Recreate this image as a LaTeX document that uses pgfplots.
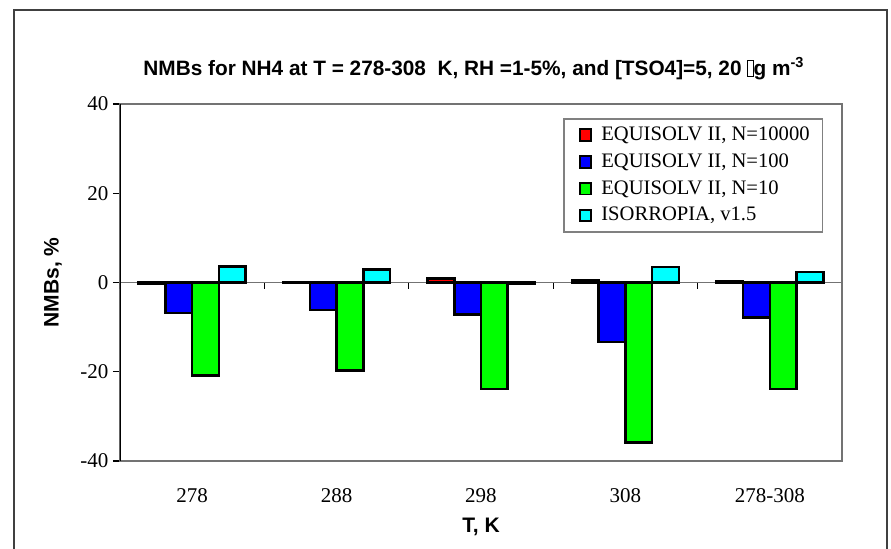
\documentclass[border=0pt]{standalone}
\usepackage{fontspec}
\setmainfont{Liberation Serif}
\setsansfont{Liberation Sans}
\usepackage{pgfplots}
\pgfplotsset{compat=1.18}
\definecolor{ered}{HTML}{FF0000}
\definecolor{eblue}{HTML}{0000FF}
\definecolor{egreen}{HTML}{00FF00}
\definecolor{ecyan}{HTML}{00FFFF}
\newcommand{\tofu}{{\setlength\fboxsep{0pt}\setlength\fboxrule{0.4pt}\fbox{\rule{0.22em}{0pt}\rule[-0.05em]{0pt}{0.75em}}}}
\begin{document}
\begin{tikzpicture}
\useasboundingbox (0,0) rectangle (445.5pt,-274pt);
\clip (0,0) rectangle (445.5pt,-274pt);
\draw[line width=1pt, black!75] (7pt,-5pt) rectangle (443.5pt,-300pt);
\begin{axis}[
  at={(60pt,-230.5pt)}, anchor=south west,
  scale only axis, width=361pt, height=178.5pt,
  xmin=0, xmax=5, ymin=-40, ymax=40,
  ybar, bar width=13.35pt,
  xtick={0.5,1.5,2.5,3.5,4.5},
  xticklabels={278,288,298,308,278-308},
  x tick style={draw=none},
  xticklabel style={yshift=-6.5pt},
  ytick={-40,-20,0,20,40},
  yticklabels={-40,-20,0,20,40},
  yticklabel style={xshift=1.2pt},
  tick align=outside, ytick pos=left, major tick length=3.5pt,
  y tick style={black, line width=0.6pt},
  axis line style={black!55, line width=0.75pt},
  tick label style={font=\fontsize{10.5}{12}\selectfont},
  xlabel={T, K}, ylabel={NMBs, \%},
  label style={font=\sffamily\bfseries\fontsize{10.5}{12}\selectfont},
  xlabel style={at={(axis description cs:0.5,-0.1849)}, anchor=center},
  ylabel style={at={(axis description cs:-0.0928,0.5)}, anchor=center},
  legend image code/.code={\path[draw=none,fill=none] (-1.5pt,0) -- (10.8pt,0);\draw[#1,draw=black,line width=0.9pt] (0pt,-2.9pt) rectangle (5.8pt,2.9pt);},
  legend style={at={(0.6136,0.9608)}, anchor=north west, draw=black!50, line width=0.75pt,
    font=\fontsize{10.3}{12}\selectfont, inner xsep=6.5pt, inner ysep=1.5pt, row sep=0pt,
    nodes={text height=8pt, text depth=2.6pt, inner ysep=1.4pt, inner xsep=0pt},
    cells={anchor=west}},
  legend cell align=left,
]
\draw[black!55, line width=0.75pt] (axis cs:0,0) -- (axis cs:5,0);
\addplot[fill=ered, draw=black, line width=1.3pt, bar shift=-20.025pt] coordinates {(0.5,-0.3) (1.5,0.1) (2.5,0.9) (3.5,0.6) (4.5,0.2)};
\addplot[fill=eblue, draw=black, line width=1.3pt, bar shift=-6.675pt] coordinates {(0.5,-6.8) (1.5,-6.2) (2.5,-7.2) (3.5,-13.3) (4.5,-7.9)};
\addplot[fill=egreen, draw=black, line width=1.3pt, bar shift=6.675pt] coordinates {(0.5,-20.8) (1.5,-19.7) (2.5,-23.9) (3.5,-35.8) (4.5,-23.9)};
\addplot[fill=ecyan, draw=black, line width=1.3pt, bar shift=20.025pt] coordinates {(0.5,3.6) (1.5,2.9) (2.5,-0.2) (3.5,3.5) (4.5,2.4)};
\legend{EQUISOLV II{,} N=10000, EQUISOLV II{,} N=100, EQUISOLV II{,} N=10, ISORROPIA{,} v1.5}
\draw[black, line width=0.6pt] (axis cs:0,0) -- ++(0pt,-3pt);
\draw[black, line width=0.6pt] (axis cs:1,0) -- ++(0pt,-3pt);
\draw[black, line width=0.6pt] (axis cs:2,0) -- ++(0pt,-3pt);
\draw[black, line width=0.6pt] (axis cs:3,0) -- ++(0pt,-3pt);
\draw[black, line width=0.6pt] (axis cs:4,0) -- ++(0pt,-3pt);
\draw[black, line width=0.8pt] (rel axis cs:0,0) -- (rel axis cs:0,1);
\end{axis}
\node[anchor=base, inner sep=0pt, font=\sffamily\bfseries\fontsize{10.4}{12}\selectfont] at (237pt,-37.5pt)
  {NMBs for NH4 at T = 278-308 \ K, RH =1-5\%, and [TSO4]=5, 20 \tofu g m\textsuperscript{-3}};
\end{tikzpicture}
\end{document}
